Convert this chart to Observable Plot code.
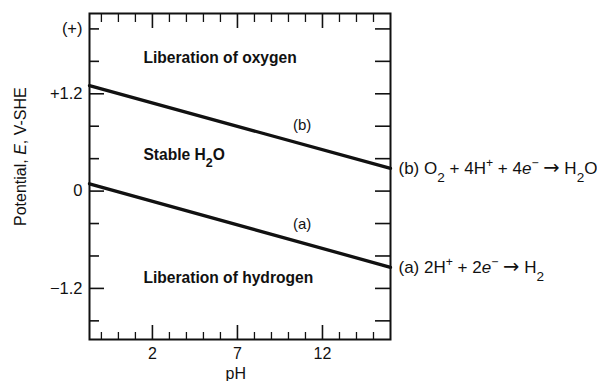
<!DOCTYPE html>
<html><head><meta charset="utf-8">
<script src="https://cdn.jsdelivr.net/npm/d3@7"></script>
<script src="https://cdn.jsdelivr.net/npm/@observablehq/plot@0.6"></script>
<style>body{margin:0;background:#fff} svg{display:block}</style>
</head><body><div id="chart"></div>
<script>
// ---- data ----
const phRange = [-1.7, 16.0];
const potentialRange = [-1.83, 2.19];
const lineEndsPH = [-1.7, 16.0];
const lineB = [1.30, 0.28];   // (b) O2 / H2O
const lineA = [0.09, -0.94];  // (a) H+ / H2
const xMinorTicks = [-1, 0, 1, 3, 4, 5, 6, 8, 9, 10, 11, 13, 14, 15];
const xMajorTicks = [2, 7, 12];
const xTickLabels = ["2", "7", "12"];
const yMinorTicks = [-1.6, -0.8, -0.4, 0.4, 0.8, 1.6, 2.0];
const yMajorTicks = [-1.2, 0, 1.2];
const yAllTicks = [-1.6, -1.2, -0.8, -0.4, 0, 0.4, 0.8, 1.2, 1.6, 2.0];
const yLabelValues = [2.0, 1.2, 0, -1.2];
const yLabelTexts = ["(+)", "+1.2", "0", "\u22121.2"];
const regionNames = ["Liberation of oxygen", "Stable H_{2}O", "Liberation of hydrogen"];
const regionPH = [1.47, 1.47, 1.47];
const regionE = [1.64, 0.44, -1.07];
const curveNames = ["(b)", "(a)"];
const curvePH = [10.8, 10.8];
const curveE = [0.81, -0.41];
const reactions = ["(b) O_{2} + 4H^{+} + 4*e*^{\u2212} ~\u2192~ H_{2}O", "(a) 2H^{+} + 2*e*^{\u2212} ~\u2192~ H_{2}"];
const reactionE = [lineB[1], lineA[1]];
const xTitle = "pH";
const yTitle = "Potential, *E*, V-SHE";

// ---- layout ----
const W = 597, H = 381, mL = 89, mR = 207, mT = 13, mB = 42;
const FW = W - mL - mR, FH = H - mT - mB;

const chart = Plot.plot({
  width: W, height: H,
  marginLeft: mL, marginRight: mR, marginTop: mT, marginBottom: mB,
  style: {fontFamily: "'Liberation Sans', Arial, sans-serif", fontSize: "16px", color: "#111", background: "#fff"},
  x: {domain: phRange},
  y: {domain: potentialRange},
  marks: [
    // inward tick marks
    Plot.tickX(xMinorTicks, {x: d => d, insetTop: FH - 7, strokeWidth: 1.3}),
    Plot.tickX(xMajorTicks, {x: d => d, insetTop: FH - 14, strokeWidth: 1.6}),
    Plot.tickX(xMinorTicks, {x: d => d, insetBottom: FH - 9, strokeWidth: 1.3}),
    Plot.tickX(xMajorTicks, {x: d => d, insetBottom: FH - 15, strokeWidth: 1.6}),
    Plot.tickY(yMinorTicks, {y: d => d, insetRight: FW - 10, strokeWidth: 1.6}),
    Plot.tickY(yMajorTicks, {y: d => d, insetRight: FW - 15, strokeWidth: 1.6}),
    Plot.tickY(yAllTicks, {y: d => d, insetLeft: FW - 15, strokeWidth: 1.6}),
    // axis labels
    Plot.axisX({ticks: xMajorTicks, tickSize: 0, tickPadding: 8, label: null,
      tickFormat: d => xTickLabels[xMajorTicks.indexOf(d)]}),
    Plot.axisY({ticks: yLabelValues, tickSize: 0, tickPadding: 7, label: null, fontSize: 16.5,
      tickFormat: d => yLabelTexts[yLabelValues.indexOf(d)]}),
    Plot.text([xTitle], {x: 6.9, frameAnchor: "bottom", lineAnchor: "middle", dy: 34, text: d => d}),
    Plot.text([yTitle], {y: 0.425, frameAnchor: "left", textAnchor: "middle", lineAnchor: "middle",
      rotate: -90, dx: -69, text: d => d}),
    // boundary lines
    Plot.line(lineB, {x: lineEndsPH, y: lineB, strokeWidth: 3.3, stroke: "#111"}),
    Plot.line(lineA, {x: lineEndsPH, y: lineA, strokeWidth: 3.3, stroke: "#111"}),
    Plot.frame({strokeWidth: 2, stroke: "#111"}),
    // region labels
    Plot.text(regionNames, {x: regionPH, y: regionE, text: d => d, textAnchor: "start",
      fontWeight: "bold", fontSize: 15.6}),
    Plot.text(curveNames, {x: curvePH, y: curveE, text: d => d, fontSize: 15}),
    Plot.text(reactions, {x: phRange[1], y: reactionE, text: d => d, textAnchor: "start",
      dx: 8, fontSize: 17})
  ]
});
document.getElementById("chart").appendChild(chart);

// rich-text post-processing: _{sub}, ^{sup}, *italic*, ~symbol~
const NS = "http://www.w3.org/2000/svg";
d3.select(chart).selectAll("text").each(function () {
  const s = this.textContent;
  if (!/_\{|\^\{|\*|~/.test(s)) return;
  this.textContent = "";
  const parts = s.split(/(_\{[^}]*\}|\^\{[^}]*\}|\*[^*]*\*|~[^~]*~)/g);
  for (const p of parts) {
    if (!p) continue;
    const t = document.createElementNS(NS, "tspan");
    if (p.startsWith("_{")) {
      t.textContent = p.slice(2, -1);
      t.setAttribute("baseline-shift", "sub");
      t.setAttribute("font-size", "80%");
    } else if (p.startsWith("^{")) {
      t.textContent = p.slice(2, -1);
      t.setAttribute("baseline-shift", "super");
      t.setAttribute("font-size", "72%");
    } else if (p.startsWith("*")) {
      t.textContent = p.slice(1, -1);
      t.setAttribute("font-style", "italic");
    } else if (p.startsWith("~")) {
      t.textContent = p.slice(1, -1);
      t.setAttribute("font-family", "'DejaVu Sans', sans-serif");
      t.setAttribute("font-size", "115%");
    } else {
      t.textContent = p;
    }
    this.appendChild(t);
  }
});
</script></body></html>
